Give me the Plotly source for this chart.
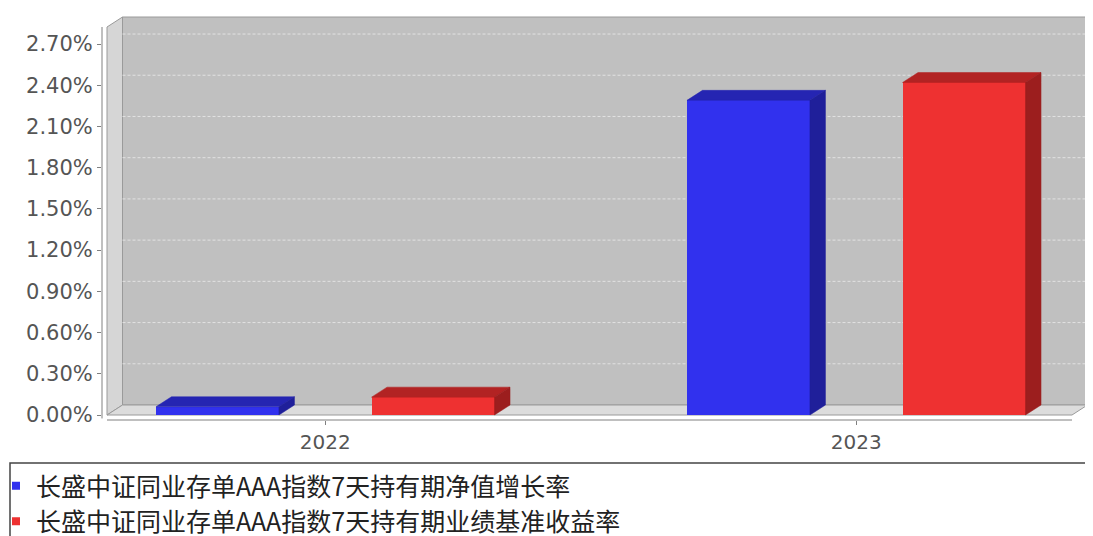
import plotly.graph_objects as go

# ---------------- data ----------------
categories = ["2022", "2023"]
series_names = [
    "长盛中证同业存单AAA指数7天持有期净值增长率",
    "长盛中证同业存单AAA指数7天持有期业绩基准收益率",
]
nav_growth = [0.06, 2.29]      # %
benchmark = [0.13, 2.42]       # %
y_tick_values = [0.0, 0.3, 0.6, 0.9, 1.2, 1.5, 1.8, 2.1, 2.4, 2.7]
y_tick_labels = ["0.00%", "0.30%", "0.60%", "0.90%", "1.20%", "1.50%",
                 "1.80%", "2.10%", "2.40%", "2.70%"]

# ---------------- layout geometry (window pixels) ----------------
PAGE_OFF = 8                      # default body margin of the html page
WIN_W, WIN_H = 1093, 536
W, H = WIN_W - PAGE_OFF, WIN_H - PAGE_OFF
PL, PR, PT, PB = 102, 1092, 16, 420   # plot area in window pixels
ML, MR, MT, MB = PL - PAGE_OFF, W - (PR - PAGE_OFF), PT - PAGE_OFF, H - (PB - PAGE_OFF)

PX_PER_CAT, CAT0_PX = 531.0, 325.25
PX_PER_PCT, ZERO_PX = 137.4, 415.0

x_range = [(PL - CAT0_PX) / PX_PER_CAT, (PR - CAT0_PX) / PX_PER_CAT]
y_range = [-(PB - ZERO_PX) / PX_PER_PCT, (ZERO_PX - PT) / PX_PER_PCT]
pw, ph = PR - PL, PB - PT

def px_to_paper_x(px):
    return (px - PL) / pw

def px_to_paper_y(py):
    return (PB - py) / ph

DX = 15.5 / PX_PER_CAT      # 3D depth in x units
DY = 10.0 / PX_PER_PCT      # 3D depth in y units
XL = (107 - CAT0_PX) / PX_PER_CAT
XR = (1072 - CAT0_PX) / PX_PER_CAT
YT = (ZERO_PX - 27) / PX_PER_PCT

offsets = [-0.203, 0.203]
BW = 0.2316
front_col = ["#3131ee", "#ee3131"]
top_col = ["#2525b2", "#b22323"]
side_col = ["#1f1f9a", "#9c1e1e"]

fig = go.Figure()

series_values = [nav_growth, benchmark]
for s, (name, vals) in enumerate(zip(series_names, series_values)):
    xs = [i + offsets[s] for i in range(len(categories))]
    fig.add_trace(go.Bar(
        x=xs, y=vals, width=BW, name=name, showlegend=False,
        marker=dict(color=front_col[s], line=dict(width=0)),
        hovertemplate="%{y:.2f}%<extra>" + name + "</extra>",
    ))
    tx, ty, sx, sy = [], [], [], []
    for x, v in zip(xs, vals):
        x0, x1 = x - BW / 2, x + BW / 2
        tx += [x0, x1, x1 + DX, x0 + DX, x0, None]
        ty += [v, v, v + DY, v + DY, v, None]
        sx += [x1, x1 + DX, x1 + DX, x1, x1, None]
        sy += [0, DY, v + DY, v, 0, None]
    fig.add_trace(go.Scatter(x=tx, y=ty, mode="lines", fill="toself",
                             fillcolor=top_col[s],
                             line=dict(color=top_col[s], width=0.5),
                             hoverinfo="skip", showlegend=False))
    fig.add_trace(go.Scatter(x=sx, y=sy, mode="lines", fill="toself",
                             fillcolor=side_col[s],
                             line=dict(color=side_col[s], width=0.5),
                             hoverinfo="skip", showlegend=False))
    # legend entry
    fig.add_trace(go.Scatter(x=[None], y=[None], mode="markers", name=name,
                             marker=dict(symbol="square", size=8,
                                         color=front_col[s]),
                             showlegend=True))

shapes = []
edge = dict(color="#9a9a9a", width=1)
# back wall
shapes.append(dict(type="rect", xref="x", yref="y", layer="below",
                   x0=XL + DX, x1=XR + DX, y0=DY, y1=YT + DY,
                   fillcolor="#c0c0c0", line=edge))
# left wall
shapes.append(dict(type="path", xref="x", yref="y", layer="below",
                   path=f"M {XL},0 L {XL+DX},{DY} L {XL+DX},{YT+DY} L {XL},{YT} Z",
                   fillcolor="#d6d6d6", line=edge))
# floor
shapes.append(dict(type="path", xref="x", yref="y", layer="below",
                   path=f"M {XL},0 L {XR},0 L {XR+DX},{DY} L {XL+DX},{DY} Z",
                   fillcolor="#dcdcdc", line=edge))
# grid lines on back wall
for v in y_tick_values[1:]:
    shapes.append(dict(type="line", xref="x", yref="y", layer="below",
                       x0=XL + DX, x1=XR + DX, y0=v + DY, y1=v + DY,
                       line=dict(color="#e2e2e2", width=1, dash="3px,2px")))
# axis lines
shapes.append(dict(type="line", xref="paper", yref="y", x0=0, x1=0,
                   y0=-0.025, y1=YT, line=dict(color="#808080", width=1)))
shapes.append(dict(type="line", xref="x", yref="paper", x0=XL, x1=XR,
                   y0=0, y1=0, line=dict(color="#808080", width=1)))
# legend box
shapes.append(dict(type="rect", xref="paper", yref="paper",
                   x0=px_to_paper_x(10), x1=px_to_paper_x(WIN_W + 10),
                   y0=px_to_paper_y(WIN_H + 10), y1=px_to_paper_y(463),
                   line=dict(color="#444444", width=1.5), fillcolor="rgba(0,0,0,0)"))

fig.update_layout(
    width=W, height=H,
    margin=dict(l=ML, r=MR, t=MT, b=MB, pad=0, autoexpand=False),
    paper_bgcolor="white", plot_bgcolor="white",
    shapes=shapes,
    showlegend=True,
    legend=dict(xref="paper", yref="paper", x=px_to_paper_x(-4),
                y=px_to_paper_y(463),
                xanchor="left", yanchor="top", bgcolor="rgba(0,0,0,0)",
                borderwidth=0, itemwidth=30, tracegroupgap=0,
                font=dict(family="Noto Sans CJK SC", size=25, color="#222222")),
    xaxis=dict(range=x_range, tickvals=list(range(len(categories))),
               ticktext=categories, ticks="outside", ticklen=4,
               tickcolor="#808080", showgrid=False, zeroline=False,
               showline=False, fixedrange=True,
               tickfont=dict(family="DejaVu Sans", size=20, color="#555555")),
    yaxis=dict(range=y_range, tickvals=y_tick_values, ticktext=y_tick_labels,
               ticks="outside", ticklen=4, tickcolor="#808080",
               showgrid=False, zeroline=False, showline=False, fixedrange=True,
               tickfont=dict(family="DejaVu Sans", size=21, color="#555555")),
    bargap=0,
)

fig.write_html("out.html")
